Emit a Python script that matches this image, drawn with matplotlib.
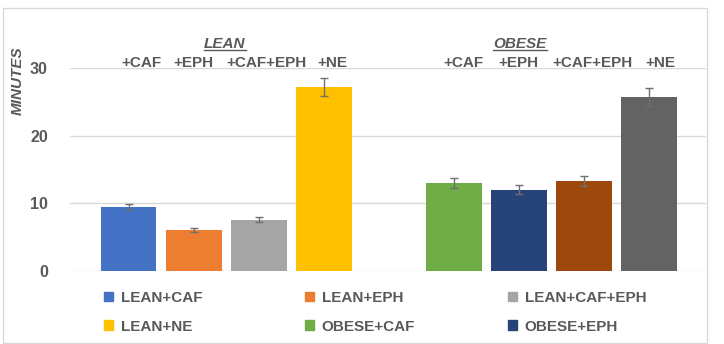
import numpy as np
import matplotlib.pyplot as plt
from matplotlib.patches import Patch, Rectangle

groups = ['LEAN', 'OBESE']
treatments = ['+CAF', '+EPH', '+CAF+EPH', '+NE']
lean_vals = [9.5, 6.1, 7.6, 27.2]
lean_err = [0.45, 0.27, 0.4, 1.35]
obese_vals = [13.0, 12.0, 13.3, 25.7]
obese_err = [0.7, 0.65, 0.7, 1.3]
lean_colors = ['#4472C4', '#ED7D31', '#A5A5A5', '#FFC000']
obese_colors = ['#70AD47', '#264478', '#9E480E', '#636363']
yticks = [0, 10, 20, 30]

plt.rcParams['font.family'] = ['Liberation Sans', 'DejaVu Sans']
txt = '#595959'
fs = 11

fig = plt.figure(figsize=(7.24, 3.44), dpi=100)
ax = fig.add_axes([70/724, 73/344, 636/724, 203/344])

# one empty slot between the two groups
lean_x = np.arange(4)
obese_x = np.arange(4) + 5
w = 0.86
ax.bar(lean_x, lean_vals, w, color=lean_colors, zorder=2)
ax.bar(obese_x, obese_vals, w, color=obese_colors, zorder=2)
ax.errorbar(lean_x, lean_vals, yerr=lean_err, fmt='none', ecolor='#6f6f6f',
            elinewidth=1, capsize=3, capthick=1, zorder=3)
ax.errorbar(obese_x, obese_vals, yerr=obese_err, fmt='none', ecolor='#6f6f6f',
            elinewidth=1, capsize=3, capthick=1, zorder=3)

ax.set_xlim(-0.9, 8.88)
ax.set_ylim(0, 30)
ax.set_yticks(yticks)
ax.set_xticks([])
ax.yaxis.grid(True, color='#D9D9D9', lw=1, zorder=0)
ax.tick_params(axis='y', length=0, pad=16, labelsize=11.5, labelcolor=txt)
for t in ax.get_yticklabels():
    t.set_fontweight('bold')
for s in ax.spines.values():
    s.set_visible(False)

# treatment labels above the bars
offs = [0.2, 0.0, 0.12, 0.13]
offs_o = [0.15, 0.0, 0.13, 0.18]
for i, t in enumerate(treatments):
    ax.text(lean_x[i] + offs[i], 30.7, t, ha='center', va='center', fontsize=fs,
            fontweight='bold', color=txt, clip_on=False)
    ax.text(obese_x[i] + offs_o[i], 30.7, t, ha='center', va='center', fontsize=fs,
            fontweight='bold', color=txt, clip_on=False)

# group headers, underlined
for gx, g in zip([1.48, 6.02], groups):
    ax.text(gx, 33.5, g, ha='center', va='center', fontsize=fs,
            fontweight='bold', fontstyle='italic', color=txt, clip_on=False)
fig.canvas.draw()
r = fig.canvas.get_renderer()
for tt in ax.texts[-2:]:
    bb = tt.get_window_extent(r)
    y = bb.y0 + 1
    fig.add_artist(plt.Line2D([bb.x0 / 724, bb.x1 / 724], [y / 344, y / 344],
                              color=txt, lw=1))

fig.text(18/724, 1 - 81/344, 'MINUTES', rotation=90, ha='center', va='center',
         fontsize=fs, fontweight='bold', fontstyle='italic', color=txt)

# legend: Excel shows only the first six entries, row by row
labels = [g + t for g in groups for t in treatments]
colors = lean_colors + obese_colors
handles = [Patch(color=c, label=l) for c, l in zip(colors, labels)][:6]
for col, lx in enumerate([104, 305, 508]):
    fig.legend(handles=handles[col::3], loc='upper left',
               bbox_to_anchor=(lx/724, 1 - 291/344),
               frameon=False, handlelength=0.6, handleheight=0.6, handletextpad=0.5,
               labelspacing=0.95, prop={'weight': 'bold', 'size': fs},
               labelcolor=txt, borderaxespad=0, borderpad=0)

fig.add_artist(Rectangle((3/724, 1/344), 704/724, 335/344, transform=fig.transFigure,
                         fill=False, ec='#D9D9D9', lw=1))

fig.savefig('out.png', dpi=100)
